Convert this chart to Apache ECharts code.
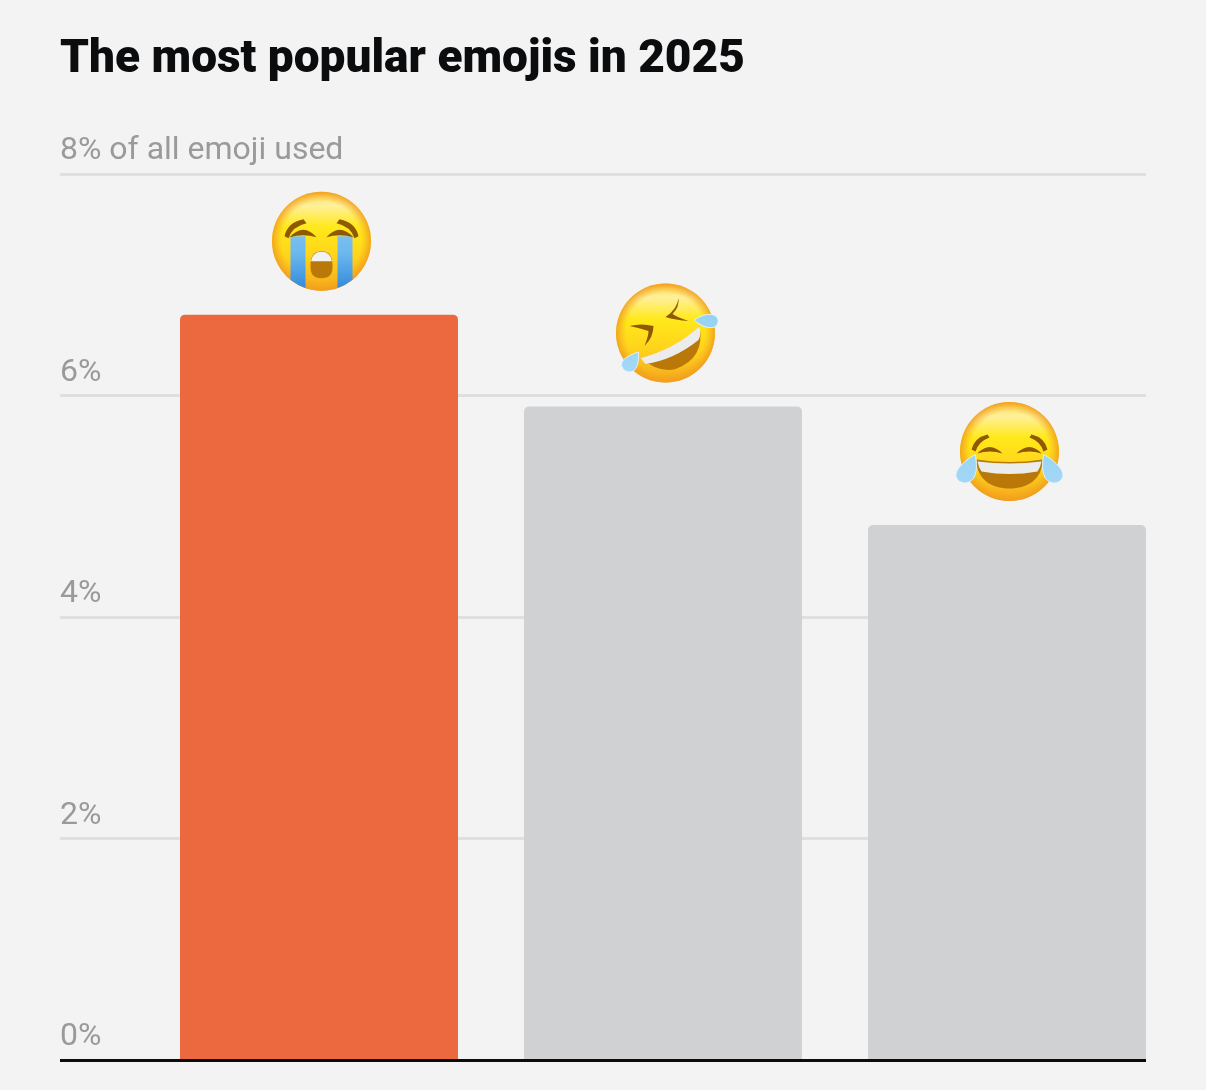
<!DOCTYPE html>
<html><head><meta charset="utf-8">
<script src="https://cdn.jsdelivr.net/npm/echarts@6/dist/echarts.min.js"></script>
<style>html,body{margin:0;padding:0;background:#f3f3f4}#c{width:1206px;height:1090px}</style>
</head><body><div id="c"></div>
<script>
const titleText = 'The most popular emojis in 2025';
const emojis = ['😭', '🤣', '😂'];
const shares = [6.73, 5.9, 4.83];
const yTicks = [0, 2, 4, 6, 8];
const yUnitNote = ' of all emoji used';

const BOX = 'M-60 -60M60 60';
const p = (d, style) => ({type:'path', shape:{pathData:BOX + d, x:-60, y:-60, width:120, height:120, layout:'cover'}, style});
const faceFill = {type:'linear', x:0, y:0, x2:0, y2:1, colorStops:[
  {offset:0,color:'#fbc42c'},{offset:0.05,color:'#fde56c'},{offset:0.14,color:'#fff09c'},{offset:0.36,color:'#ffe91a'},{offset:0.65,color:'#ffd41c'},{offset:1,color:'#f5a81c'}]};
const rimFill = {type:'radial', x:0.5, y:0.5, r:0.5, colorStops:[
  {offset:0,color:'rgba(245,165,30,0)'},{offset:0.8,color:'rgba(245,165,30,0)'},{offset:1,color:'rgba(240,155,30,0.85)'}]};
const dropFill = {type:'linear', x:0, y:0, x2:0, y2:1, colorStops:[{offset:0,color:'#8ccdf2'},{offset:1,color:'#a9dbf6'}]};
const streamFill = {type:'linear', x:0, y:0, x2:0, y2:1, colorStops:[{offset:0,color:'#a8d8f5'},{offset:0.6,color:'#6cb8ee'},{offset:1,color:'#1f7ad6'}]};
const brown = '#8f5803', mouthBrown = '#b97807', white = '#ececec';
const base = () => [
  {type:'circle', shape:{cx:0,cy:0,r:49.5}, style:{fill:faceFill}},
  {type:'circle', shape:{cx:0,cy:0,r:49.5}, style:{fill:rimFill}}
];
const drawCry = () => base().concat([
  p('M-31 -5L-16 -5L-16 46.8A49.5 49.5 0 0 1 -31 38.6Z', {fill:streamFill}),
  p('M31 -5L16 -5L16 46.8A49.5 49.5 0 0 0 31 38.6Z', {fill:streamFill}),
  p('M-37 -5Q-34 -19 -18 -22L-15 -18Q-29 -15 -33 -3Z', {fill:brown}),
  p('M37 -5Q34 -19 18 -22L15 -18Q29 -15 33 -3Z', {fill:brown}),
  p('M-32 -4Q-18 -19 -5 -4Q-18 -8 -32 -4Z', {fill:brown}),
  p('M32 -4Q18 -19 5 -4Q18 -8 32 -4Z', {fill:brown}),
  p('M-11 24Q-11 10 0 10Q11 10 11 24L11 26Q11 37 0 37Q-11 37 -11 26Z', {fill:mouthBrown}),
  p('M-10.5 20Q-9 10.5 0 10.5Q9 10.5 10.5 20Z', {fill:'#f2f2f2'})
]);
const drawRofl = () => base().concat([
  p('M-24 25Q10 18 34 -7Q40 25 10 36Q-8 40 -24 25Z', {fill:mouthBrown}),
  p('M-25 25Q10 16 34 -7Q36 2 33 7Q8 27 -20 31Z', {fill:white}),
  p('M13 -35Q12 -24 0 -16Q10 -13 23 -12Q11 -16 7 -19Q14 -26 13 -35Z', {fill:brown}),
  p('M-36 -7Q-24 -10 -12 -7Q-12 4 -21 13Q-17 3 -17 -2Q-26 -5 -36 -7Z', {fill:brown}),
  p('M29 -13C34 -17 42 -20 48 -18C54 -16 54 -9 49 -6C42 -4 34 -8 29 -13Z', {fill:dropFill, stroke:'#e2f2fb', lineWidth:1}),
  p('M-27 19C-27 26 -27 33 -31 37C-36 41 -44 38 -44 31C-43 25 -34 21 -27 19Z', {fill:dropFill, stroke:'#e2f2fb', lineWidth:1})
]);
const drawJoy = () => base().concat([
  p('M-38 -2Q-35 -14 -22 -17L-20 -14Q-31 -10 -34 0Z', {fill:brown}),
  p('M38 -2Q35 -14 22 -17L20 -14Q31 -10 34 0Z', {fill:brown}),
  p('M-32 2Q-20 -11 -7 2Q-20 -2 -32 2Z', {fill:brown}),
  p('M32 2Q20 -11 7 2Q20 -2 32 2Z', {fill:brown}),
  p('M-33 8Q0 13 33 8C33 28 18 37 0 37C-18 37 -33 28 -33 8Z', {fill:mouthBrown}),
  p('M-32 10Q0 14 32 10Q31 16 28 20Q0 25 -28 20Q-31 16 -32 10Z', {fill:white}),
  p('M-34 3C-33 12 -32 20 -36 27C-41 33 -50 33 -53 26C-56 19 -44 8 -34 3Z', {fill:dropFill, stroke:'#e2f2fb', lineWidth:1}),
  p('M34 3C33 12 32 20 36 27C41 33 50 33 53 26C56 19 44 8 34 3Z', {fill:dropFill, stroke:'#e2f2fb', lineWidth:1})
]);
const drawers = [drawCry, drawRofl, drawJoy];
const barColors = ['#ec6940', '#d0d1d3', '#d0d1d3'];

const chart = echarts.init(document.getElementById('c'), null, {renderer:'canvas'});
chart.setOption({
  backgroundColor:'#f3f3f4',
  animation:false,
  title:{text:titleText, left:60, top:37, padding:0, textStyle:{fontFamily:'Roboto', fontWeight:900, fontSize:46, color:'#0b0c0e'}},
  grid:[
    {left:60, width:1086, top:174, height:886},
    {left:147, width:1032, top:174, height:886}
  ],
  xAxis:[
    {gridIndex:0, type:'value', min:0, max:1, axisLine:{show:true, onZero:false, lineStyle:{color:'#0b0c0e', width:3, cap:'butt'}}, axisTick:{show:false}, axisLabel:{show:false}, splitLine:{show:false}, z:5},
    {gridIndex:1, type:'category', data:emojis, axisLine:{show:false}, axisTick:{show:false}, axisLabel:{show:false}}
  ],
  yAxis:[
    {gridIndex:0, type:'value', min:yTicks[0], max:yTicks[yTicks.length-1], interval:2,
     axisLine:{show:false}, axisTick:{show:false},
     splitLine:{show:true, lineStyle:{color:'#dfdfdf', width:3}},
     axisLabel:{inside:true, margin:0, align:'left', verticalAlign:'bottom', padding:[0,0,7,0],
       fontFamily:'Roboto', fontWeight:400, fontSize:32, color:'#9a9a9a',
       formatter:v => v === 8 ? v + '%' + yUnitNote : v + '%'}},
    {gridIndex:1, type:'value', min:yTicks[0], max:yTicks[yTicks.length-1], interval:2, show:false, splitLine:{show:false}}
  ],
  series:[
    {type:'bar', xAxisIndex:1, yAxisIndex:1, barWidth:278, z:3, data:shares.map((v,i)=>({value:v, itemStyle:{color:barColors[i], borderRadius:[5,5,0,0]}}))},
    {type:'custom', xAxisIndex:1, yAxisIndex:1, z:4, clip:false,
     data:shares.map((v,i)=>[i,v]),
     renderItem:(params, api)=>{
       const i = api.value(0);
       const pt = api.coord([i, api.value(1)]);
       return {type:'group', x:pt[0]+2.5, y:pt[1]-73.5, children:drawers[i]()};
     }}
  ]
});
</script></body></html>
